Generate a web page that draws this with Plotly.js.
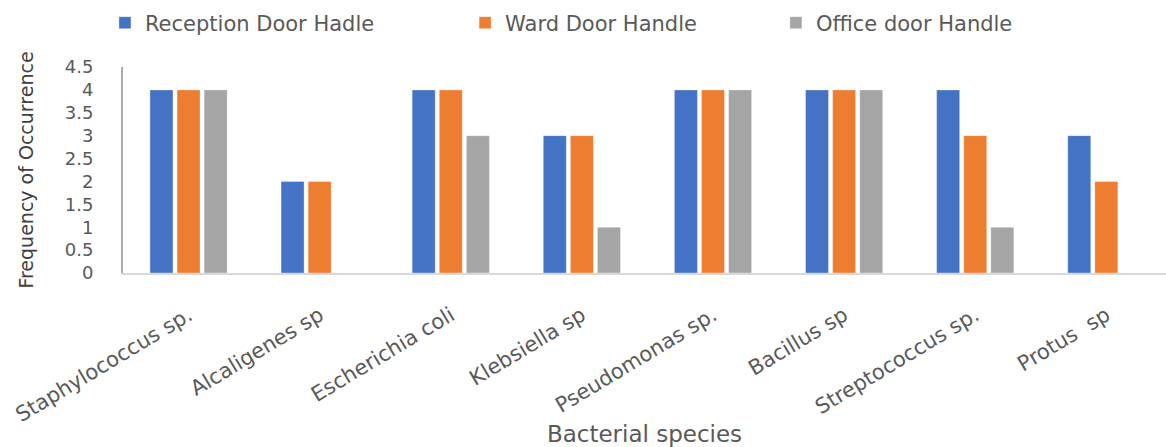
<!DOCTYPE html>
<html>
<head>
<meta charset="utf-8">
<script src="https://cdn.plot.ly/plotly-3.0.1.min.js"></script>
<style>html,body{margin:0;padding:0;background:#fff;}#chart{width:1166px;height:447px;}</style>
</head>
<body>
<div id="chart"></div>
<script>
const categories = ["Staphylococcus sp.", "Alcaligenes sp", "Escherichia coli", "Klebsiella sp", "Pseudomonas sp.", "Bacillus sp", "Streptococcus sp.", "Protus  sp"];
const seriesNames = ["Reception Door Hadle", "Ward Door Handle", "Office door Handle"];
const receptionDoor = [4, 2, 4, 3, 4, 4, 4, 3];
const wardDoor = [4, 2, 4, 3, 4, 4, 3, 2];
const officeDoor = [4, 0, 3, 1, 4, 4, 1, 0];
const yTickVals = [0, 0.5, 1, 1.5, 2, 2.5, 3, 3.5, 4, 4.5];
const yTickText = ["0", "0.5", "1", "1.5", "2", "2.5", "3", "3.5", "4", "4.5"];

const colors = ["#4472C4", "#ED7D31", "#A5A5A5"];
const values = [receptionDoor, wardDoor, officeDoor];
const legendIds = ["legend", "legend2", "legend3"];
const FONT = "DejaVu Sans, sans-serif";
const TXT = "#595959";

const traces = values.map((v, i) => ({
  type: "bar",
  name: seriesNames[i],
  x: categories,
  y: v,
  legend: legendIds[i],
  marker: {color: colors[i], line: {color: "rgba(255,255,255,0.35)", width: 1}},
  hoverinfo: "x+y+name"
}));

const legendBase = {
  orientation: "h",
  yanchor: "middle",
  y: 1.2136,
  xanchor: "left",
  bgcolor: "rgba(0,0,0,0)",
  font: {family: FONT, size: 21, color: TXT}
};

const layout = {
  width: 1166,
  height: 447,
  margin: {l: 123, r: 0, t: 67, b: 174},
  paper_bgcolor: "#ffffff",
  plot_bgcolor: "#ffffff",
  barmode: "group",
  bargap: 0.38,
  bargroupgap: 0.15,
  showlegend: true,
  legend: Object.assign({}, legendBase, {x: -0.0173}),
  legend2: Object.assign({}, legendBase, {x: 0.328}),
  legend3: Object.assign({}, legendBase, {x: 0.626}),
  xaxis: {
    type: "category",
    range: [-0.5, 7.455],
    showgrid: false,
    zeroline: false,
    showline: true,
    linecolor: "#d9d9d9",
    linewidth: 2,
    ticks: "",
    tickangle: -31,
    ticklabelstandoff: 20,
    tickfont: {family: FONT, size: 21, color: TXT},
    title: {text: "Bacterial species", font: {family: FONT, size: 23, color: TXT}, standoff: 20},
    automargin: false,
    fixedrange: true
  },
  yaxis: {
    range: [0, 4.5],
    tickvals: yTickVals,
    ticktext: yTickText,
    showgrid: false,
    zeroline: false,
    showline: true,
    linecolor: "#ababab",
    linewidth: 2,
    ticks: "",
    ticklabelstandoff: 24,
    tickfont: {family: FONT, size: 18, color: TXT},
    title: {text: "Frequency of Occurrence", font: {family: FONT, size: 19, color: "#404040"}, standoff: 26},
    automargin: false,
    fixedrange: true
  }
};

Plotly.newPlot("chart", traces, layout, {displayModeBar: false, staticPlot: true});
</script>
</body>
</html>
